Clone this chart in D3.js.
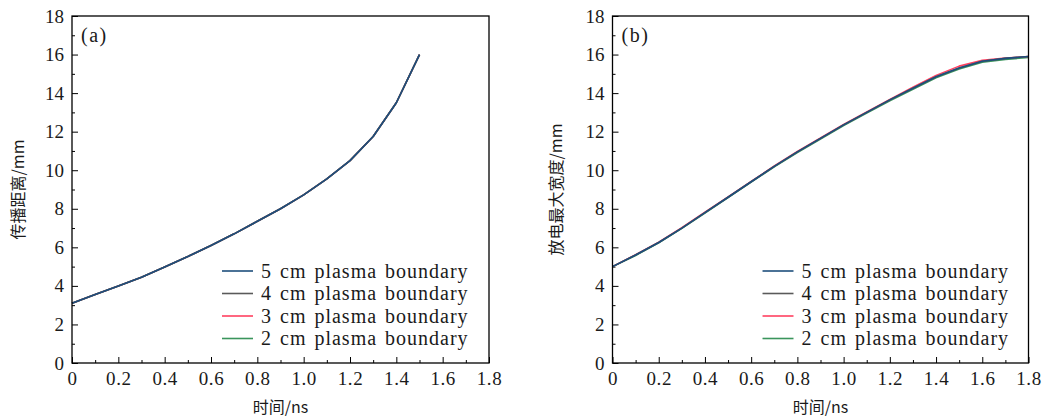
<!DOCTYPE html>
<html>
<head>
<meta charset="utf-8">
<script src="https://cdn.jsdelivr.net/npm/d3@7"></script>
<style>
  html, body { margin: 0; padding: 0; background: #fff; }
  svg { display: block; }
</style>
</head>
<body>
<svg id="chart" width="1044" height="419"></svg>
<script>
// Time samples (ns)
const timeA = [0, 0.1, 0.2, 0.3, 0.4, 0.5, 0.6, 0.7, 0.8, 0.9, 1.0, 1.1, 1.2, 1.3, 1.4, 1.5];
const timeB = [0, 0.1, 0.2, 0.3, 0.4, 0.5, 0.6, 0.7, 0.8, 0.9, 1.0, 1.1, 1.2, 1.3, 1.4, 1.5, 1.6, 1.7, 1.8];

// (a) propagation distance (mm) for each plasma boundary
const distA5 = [3.1, 3.55, 4.0, 4.45, 4.98, 5.52, 6.1, 6.7, 7.35, 8.0, 8.72, 9.55, 10.5, 11.75, 13.5, 16.0];
const distA4 = [3.1, 3.55, 4.0, 4.45, 4.98, 5.52, 6.1, 6.7, 7.35, 8.0, 8.72, 9.55, 10.5, 11.75, 13.5, 16.0];
const distA3 = [3.1, 3.55, 4.0, 4.45, 4.98, 5.52, 6.1, 6.7, 7.35, 8.0, 8.72, 9.55, 10.5, 11.75, 13.5, 16.0];
const distA2 = [3.1, 3.55, 4.0, 4.45, 4.98, 5.52, 6.1, 6.7, 7.35, 8.0, 8.72, 9.55, 10.5, 11.75, 13.5, 16.0];

// (b) maximum discharge width (mm) for each plasma boundary
const widthB5 = [5.0, 5.6, 6.25, 7.0, 7.8, 8.6, 9.4, 10.2, 10.95, 11.65, 12.35, 13.0, 13.65, 14.25, 14.85, 15.3, 15.65, 15.8, 15.9];
const widthB4 = [5.0, 5.6, 6.25, 7.0, 7.8, 8.6, 9.4, 10.2, 10.95, 11.65, 12.35, 13.0, 13.65, 14.25, 14.85, 15.3, 15.65, 15.8, 15.9];
const widthB3 = [5.0, 5.62, 6.27, 7.02, 7.82, 8.62, 9.42, 10.22, 10.97, 11.67, 12.37, 13.02, 13.67, 14.3, 14.92, 15.4, 15.7, 15.82, 15.9];
const widthB2 = [5.0, 5.58, 6.23, 6.98, 7.78, 8.58, 9.38, 10.18, 10.92, 11.62, 12.32, 12.96, 13.6, 14.2, 14.8, 15.25, 15.6, 15.75, 15.85];

// Axis ticks and labels
const xTicks = [0, 0.2, 0.4, 0.6, 0.8, 1.0, 1.2, 1.4, 1.6, 1.8];
const xTickLabels = ["0", "0.2", "0.4", "0.6", "0.8", "1.0", "1.2", "1.4", "1.6", "1.8"];
const xMinorTicks = [0.1, 0.3, 0.5, 0.7, 0.9, 1.1, 1.3, 1.5, 1.7];
const yTicks = [0, 2, 4, 6, 8, 10, 12, 14, 16, 18];
const yMinorTicks = [1, 3, 5, 7, 9, 11, 13, 15, 17];

const seriesNames = ["5 cm plasma boundary", "4 cm plasma boundary", "3 cm plasma boundary", "2 cm plasma boundary"];
const seriesColors = ["#1d4e7c", "#5a5a5a", "#ff4060", "#3a955c"];

const xTitle = "时间/ns";
const panels = [
  { tag: "(a)", yTitle: "传播距离/mm", time: timeA, values: [distA5, distA4, distA3, distA2], left: 72, right: 489, yTitleX: 18 },
  { tag: "(b)", yTitle: "放电最大宽度/mm", time: timeB, values: [widthB5, widthB4, widthB3, widthB2], left: 612.5, right: 1028.5, yTitleX: 556 }
];

const plotTop = 16, plotBottom = 363;
const latin = "'Liberation Serif', 'DejaVu Serif', serif";
const cjk = "'Noto Sans CJK SC', 'DejaVu Serif', serif";
const fontSize = 19;

const svg = d3.select("#chart");

panels.forEach(p => {
  const x = d3.scaleLinear().domain([0, 1.8]).range([p.left, p.right]);
  const y = d3.scaleLinear().domain([0, 18]).range([plotBottom, plotTop]);
  const g = svg.append("g");

  // Bottom axis: inward ticks, labels below
  const xAxis = d3.axisBottom(x).tickValues(xTicks)
    .tickFormat((d, i) => xTickLabels[i]).tickSizeInner(-6).tickSizeOuter(0).tickPadding(9);
  const gx = g.append("g").attr("transform", `translate(0,${plotBottom})`).call(xAxis);
  gx.select(".domain").remove();
  gx.selectAll("line").attr("stroke", "#000").attr("stroke-width", 1);
  gx.selectAll("text").attr("font-family", latin).attr("font-size", fontSize)
    .attr("letter-spacing", 0.6).attr("fill", "#1a1a1a");

  const xMinor = d3.axisBottom(x).tickValues(xMinorTicks).tickFormat("").tickSizeInner(-3).tickSizeOuter(0);
  const gxm = g.append("g").attr("transform", `translate(0,${plotBottom})`).call(xMinor);
  gxm.select(".domain").remove();
  gxm.selectAll("line").attr("stroke", "#000").attr("stroke-width", 1);

  // Left axis
  const yAxis = d3.axisLeft(y).tickValues(yTicks).tickFormat(d3.format("d"))
    .tickSizeInner(-6).tickSizeOuter(0).tickPadding(8);
  const gy = g.append("g").attr("transform", `translate(${p.left},0)`).call(yAxis);
  gy.select(".domain").remove();
  gy.selectAll("line").attr("stroke", "#000").attr("stroke-width", 1);
  gy.selectAll("text").attr("font-family", latin).attr("font-size", fontSize).attr("fill", "#1a1a1a");

  const yMinor = d3.axisLeft(y).tickValues(yMinorTicks).tickFormat("").tickSizeInner(-3).tickSizeOuter(0);
  const gym = g.append("g").attr("transform", `translate(${p.left},0)`).call(yMinor);
  gym.select(".domain").remove();
  gym.selectAll("line").attr("stroke", "#000").attr("stroke-width", 1);

  // Curves: draw 2 cm first so the 5 cm curve ends on top
  const line = d3.line().x((d, i) => x(p.time[i])).y(d => y(d));
  for (let k = p.values.length - 1; k >= 0; k--) {
    g.append("path").datum(p.values[k])
      .attr("d", line).attr("fill", "none")
      .attr("stroke", seriesColors[k]).attr("stroke-width", 1.6)
      .attr("stroke-linejoin", "round");
  }

  // Plot frame
  g.append("rect").attr("x", p.left).attr("y", plotTop)
    .attr("width", p.right - p.left).attr("height", plotBottom - plotTop)
    .attr("fill", "none").attr("stroke", "#000").attr("stroke-width", 1.3);

  // Panel tag
  g.append("text").attr("x", p.left + 9).attr("y", 42)
    .attr("font-family", latin).attr("font-size", 20).attr("letter-spacing", 1.5)
    .attr("fill", "#1a1a1a").text(p.tag);

  // Legend
  const lg = g.append("g").attr("transform", `translate(${p.left + 150},0)`);
  seriesNames.forEach((name, i) => {
    const yy = 271 + i * 22.5;
    lg.append("line").attr("x1", 0).attr("x2", 31).attr("y1", yy).attr("y2", yy)
      .attr("stroke", seriesColors[i]).attr("stroke-width", 1.6);
    lg.append("text").attr("x", 39).attr("y", yy + 6.5)
      .attr("font-family", latin).attr("font-size", 20)
      .attr("letter-spacing", 1).attr("word-spacing", 2)
      .attr("fill", "#1a1a1a").text(name);
  });

  // Axis titles
  g.append("text").attr("x", (p.left + p.right) / 2).attr("y", 413)
    .attr("text-anchor", "middle").attr("font-family", cjk).attr("font-size", 16).attr("fill", "#1a1a1a")
    .text(xTitle);
  g.append("text")
    .attr("transform", `translate(${p.yTitleX},${(plotTop + plotBottom) / 2}) rotate(-90)`)
    .attr("text-anchor", "middle").attr("dy", "0.35em")
    .attr("font-family", cjk).attr("font-size", 16).attr("fill", "#1a1a1a")
    .text(p.yTitle);
});
</script>
</body>
</html>
